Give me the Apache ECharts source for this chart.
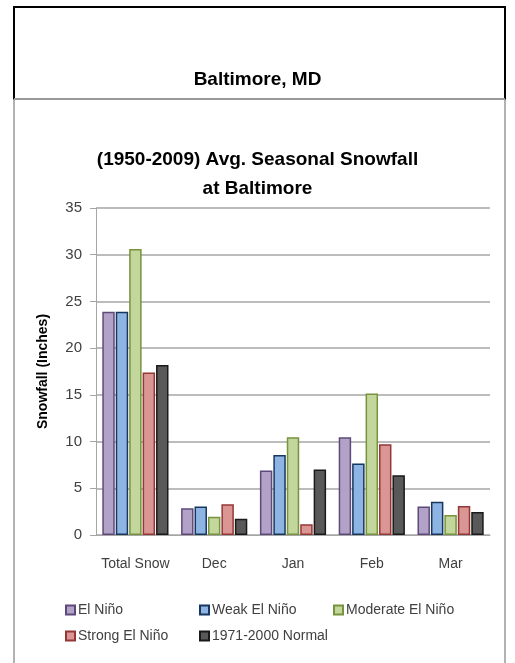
<!DOCTYPE html>
<html><head><meta charset="utf-8">
<script src="https://cdn.jsdelivr.net/npm/echarts@6/dist/echarts.min.js"></script>
<style>html,body{margin:0;padding:0;background:#fff}#c{width:515px;height:663px}</style>
</head><body><div id="c"></div>
<script>
const categories = ['Total Snow', 'Dec', 'Jan', 'Feb', 'Mar'];
const elNino = [23.9, 2.85, 6.9, 10.45, 3.05];
const weakElNino = [23.9, 3.05, 8.55, 7.65, 3.55];
const moderateElNino = [30.6, 1.95, 10.45, 15.15, 2.15];
const strongElNino = [17.4, 3.3, 1.15, 9.7, 3.1];
const normal19712000 = [18.2, 1.75, 7.0, 6.4, 2.45];
const seriesNames = ['El Niño', 'Weak El Niño', 'Moderate El Niño', 'Strong El Niño', '1971-2000 Normal'];
const yTicks = [0, 5, 10, 15, 20, 25, 30, 35];

const FONT = 'Liberation Sans';
const fills = ['#B3A2C7', '#8EB4E3', '#C3D69B', '#D99694', '#595959'];
const borders = ['#5F497A', '#17375E', '#77933C', '#953735', '#1A1A1A'];
const dataSets = [elNino, weakElNino, moderateElNino, strongElNino, normal19712000];

const chart = echarts.init(document.getElementById('c'), null, {renderer: 'canvas'});

const legendPos = [[60, 598], [194, 598], [328, 598], [60, 624], [194, 624]];

chart.setOption({
  backgroundColor: '#fff',
  animation: false,
  textStyle: {fontFamily: FONT},
  title: [{
    text: 'Baltimore, MD',
    left: 'center', top: 65,
    textStyle: {fontFamily: FONT, fontSize: 19, fontWeight: 'bold', color: '#000'}
  }, {
    text: '(1950-2009) Avg. Seasonal Snowfall\nat Baltimore',
    left: 'center', top: 140,
    textStyle: {fontFamily: FONT, fontSize: 19, fontWeight: 'bold', color: '#000', lineHeight: 29}
  }],
  graphic: [
    {type: 'rect', shape: {x: 14, y: 7, width: 491, height: 92}, style: {fill: 'none', stroke: '#000', lineWidth: 2}},
    {type: 'line', shape: {x1: 14, y1: 99, x2: 505, y2: 99}, style: {stroke: '#999', lineWidth: 2}},
    {type: 'line', shape: {x1: 14, y1: 99, x2: 14, y2: 663}, style: {stroke: '#999', lineWidth: 1.5}},
    {type: 'line', shape: {x1: 505, y1: 99, x2: 505, y2: 663}, style: {stroke: '#999', lineWidth: 1.5}}
  ],
  legend: seriesNames.map((n, i) => ({
    data: [n], left: legendPos[i][0], top: legendPos[i][1],
    itemWidth: 9, itemHeight: 9, itemGap: 4, icon: 'rect',
    textStyle: {fontFamily: FONT, fontSize: 14, color: '#404040', padding: [0, 0, 0, -2]},
    selectedMode: false
  })),
  grid: {left: 96, right: 25, top: 208, bottom: 128},
  xAxis: {
    type: 'category', data: categories,
    axisLine: {lineStyle: {color: '#A6A6A6'}},
    axisTick: {show: false},
    axisLabel: {interval: 0, fontFamily: FONT, fontSize: 14, color: '#404040', margin: 22}
  },
  yAxis: {
    type: 'value', min: yTicks[0], max: yTicks[yTicks.length - 1], interval: 5,
    name: 'Snowfall (Inches)', nameLocation: 'middle', nameGap: 46,
    nameTextStyle: {fontFamily: FONT, fontSize: 14, fontWeight: 'bold', color: '#000'},
    axisLine: {show: true, lineStyle: {color: '#A6A6A6'}},
    axisTick: {show: true, length: 6, lineStyle: {color: '#A6A6A6'}},
    axisLabel: {fontFamily: FONT, fontSize: 15, color: '#404040', margin: 14},
    splitLine: {lineStyle: {color: '#A6A6A6', width: 1.5}}
  },
  series: dataSets.map((d, i) => ({
    name: seriesNames[i], type: 'bar', data: d,
    barGap: '8%', barCategoryGap: '16%',
    itemStyle: {color: fills[i], borderColor: borders[i], borderWidth: 1.5}
  }))
});
</script></body></html>
